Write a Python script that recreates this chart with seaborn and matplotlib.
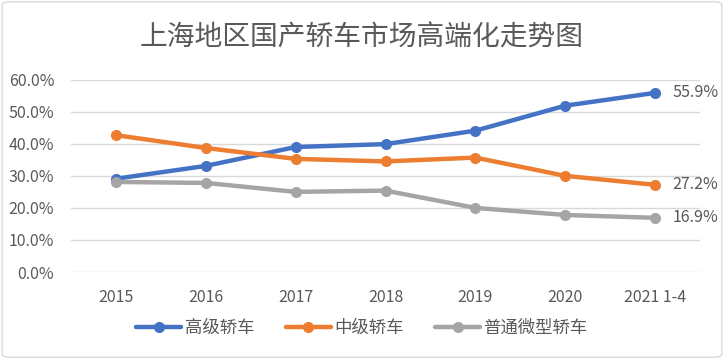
import matplotlib
matplotlib.use("Agg")
import matplotlib.pyplot as plt
import seaborn as sns
import pandas as pd
from matplotlib.patches import FancyBboxPatch
from matplotlib.lines import Line2D
from matplotlib.ticker import FuncFormatter

categories = ["2015", "2016", "2017", "2018", "2019", "2020", "2021 1-4"]
series_names = ["高级轿车", "中级轿车", "普通微型轿车"]
high = [29.1, 33.1, 39.0, 39.9, 44.1, 51.9, 55.9]
mid = [42.7, 38.7, 35.3, 34.5, 35.7, 30.0, 27.2]
small = [28.1, 27.8, 25.0, 25.4, 20.0, 17.8, 16.9]
colors = ["#4472C4", "#ED7D31", "#A5A5A5"]
title = "上海地区国产轿车市场高端化走势图"

sns.set_theme(style="white")
plt.rcParams['font.family'] = ['Noto Sans CJK SC', 'DejaVu Sans']

rows = []
for name, vals in zip(series_names, [high, mid, small]):
    for i, (c, v) in enumerate(zip(categories, vals)):
        rows.append({"idx": i, "cat": c, "series": name, "value": v / 100})
df = pd.DataFrame(rows)

fig = plt.figure(figsize=(7.24, 3.59), dpi=100)
ax = fig.add_axes([0.098, 0.2423, 0.869, 0.5357])

sns.lineplot(data=df, x="idx", y="value", hue="series", palette=colors,
             hue_order=series_names, marker="o", markersize=8, markeredgewidth=0,
             linewidth=3.2, ax=ax, legend=False)

ax.set_xlim(-0.5, len(categories) - 0.5)
ax.set_ylim(0, 0.6)
ax.set_yticks([i / 10 for i in range(7)])
ax.yaxis.set_major_formatter(FuncFormatter(lambda v, p: f"{v*100:.1f}%"))
ax.set_xticks(range(len(categories)))
ax.set_xticklabels(categories)
ax.grid(axis="y", color="#D9D9D9", linewidth=1)
ax.set_axisbelow(True)
for s in ax.spines.values():
    s.set_visible(False)
ax.tick_params(axis="both", length=0, colors="#595959", labelsize=11.5)
ax.tick_params(axis="x", pad=12)
ax.tick_params(axis="y", pad=12)
ax.set_xlabel("")
ax.set_ylabel("")

for vals, name in zip([high, mid, small], series_names):
    ax.text(len(categories) - 1 + 0.19, vals[-1] / 100, f"{vals[-1]:.1f}%",
            va="center", ha="left", fontsize=11.5, color="#595959")

fig.text(0.5, 0.895, title, ha="center", va="center", fontsize=20, color="#595959")

handles = [Line2D([0], [0], color=c, linewidth=3.2, marker="o", markersize=8,
                  markeredgewidth=0) for c in colors]
fig.legend(handles, series_names, loc="center", bbox_to_anchor=(0.5, 0.087),
           ncol=3, frameon=False, fontsize=12.5, handlelength=2.6,
           columnspacing=1.8, handletextpad=0.2, labelcolor="#595959")

border = FancyBboxPatch((0.003, 0.005), 0.994, 0.99, boxstyle="round,pad=0,rounding_size=0.01",
                        transform=fig.transFigure, fill=False, edgecolor="#D9D9D9", linewidth=1)
fig.patches.append(border)

fig.savefig("out.png", dpi=100)
